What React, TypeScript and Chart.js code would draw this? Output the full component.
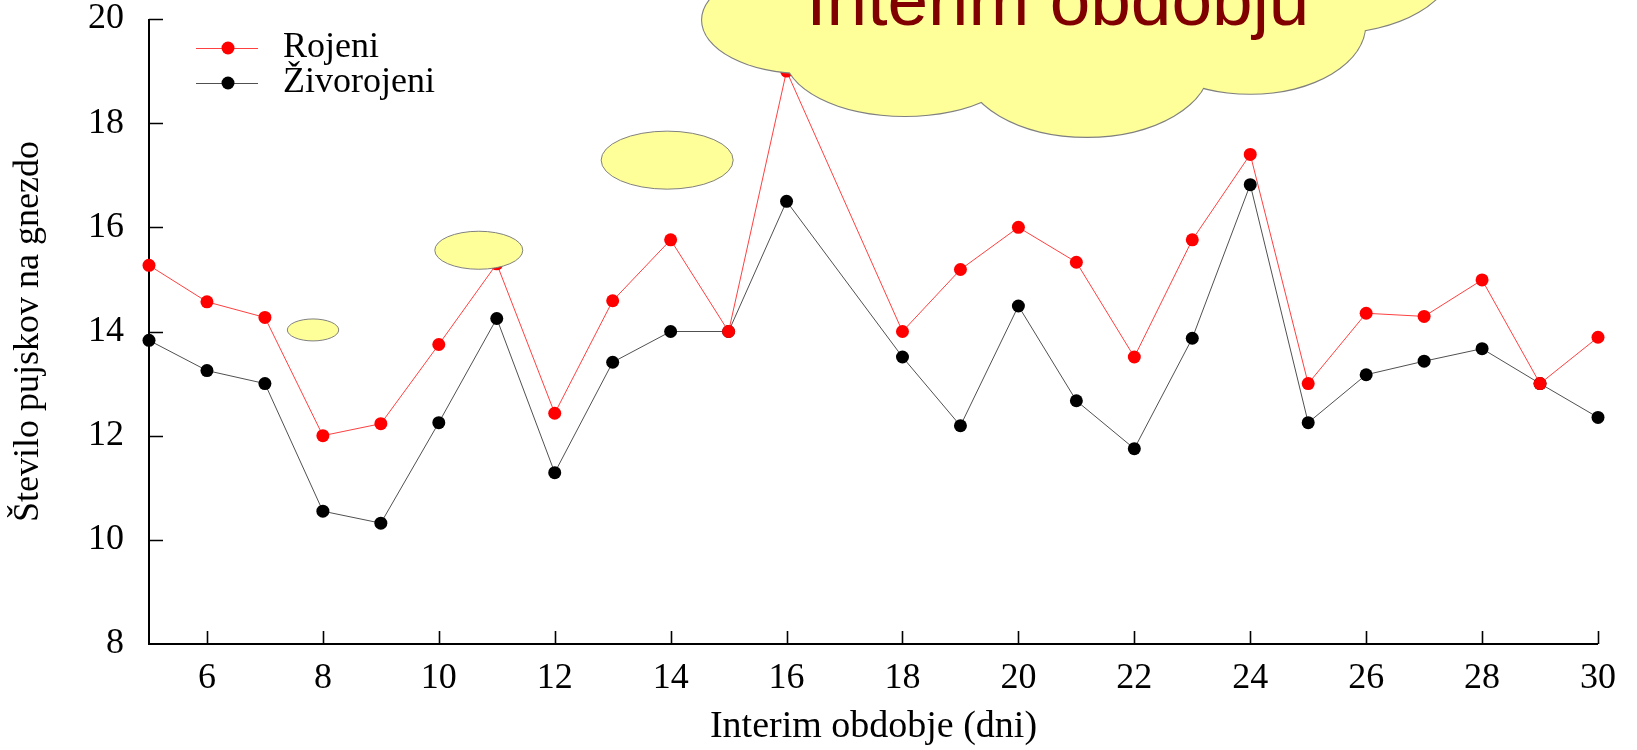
import React, { useEffect, useRef } from "react";
import { Chart, registerables } from "chart.js";

Chart.register(...registerables);

// ---- data ----
const days = [5, 6, 7, 8, 9, 10, 11, 12, 13, 14, 15, 16, 18, 19, 20, 21, 22, 23, 24, 25, 26, 27, 28, 29, 30];
const rojeni = [15.27, 14.57, 14.27, 12.0, 12.23, 13.75, 15.3, 12.43, 14.59, 15.76, 14.0, 19.0, 14.0, 15.19, 16.0, 15.33, 13.51, 15.76, 17.4, 13.0, 14.35, 14.29, 14.99, 13.0, 13.89];
const zivorojeni = [13.83, 13.25, 13.0, 10.55, 10.32, 12.25, 14.25, 11.29, 13.41, 14.0, 14.0, 16.5, 13.51, 12.19, 14.49, 12.67, 11.75, 13.87, 16.82, 12.25, 13.17, 13.43, 13.67, 13.0, 12.35];
const xTickValues = [6, 8, 10, 12, 14, 16, 18, 20, 22, 24, 26, 28, 30];
const yTickValues = [8, 10, 12, 14, 16, 18, 20];
const seriesLabels = ["Rojeni", "Živorojeni"];
const xTitle = "Interim obdobje (dni)";
const yTitle = "Število pujskov na gnezdo";
const cloudText = "Interim obdobju";

// decorative ellipses (data units): [x, y, rx, ry]
const bubbles = [
  [7.83, 14.03, 0.443, 0.211],
  [10.69, 15.56, 0.759, 0.365],
  [13.94, 17.29, 1.139, 0.557],
];
const cloudLobes = [
  [16.32, 19.98, 1.777, 1.018],
  [18.04, 19.31, 2.07, 1.171],
  [21.18, 19.12, 2.122, 1.383],
  [24.0, 19.89, 1.984, 1.325],
  [25.38, 21.13, 2.157, 1.402],
];
const cloudFiller = [21.06, 20.17, 4.7, 1.536];
const cloudTextPos = [16.34, 19.885];

const SERIF = '"Liberation Serif", "Times New Roman", serif';

const decorPlugin = {
  id: "decor",
  beforeDatasetsDraw(chart: any) {
    const { ctx, chartArea, scales } = chart;
    const x = scales.x, y = scales.y;
    ctx.save();
    ctx.strokeStyle = "#000";
    ctx.lineWidth = 2;
    ctx.beginPath();
    ctx.moveTo(chartArea.left, chartArea.top);
    ctx.lineTo(chartArea.left, chartArea.bottom);
    ctx.lineTo(chartArea.right, chartArea.bottom);
    ctx.stroke();
    ctx.lineWidth = 1.6;
    ctx.beginPath();
    for (const v of yTickValues) {
      if (v === yTickValues[0]) continue;
      const py = Math.round(y.getPixelForValue(v)) + 0.5;
      ctx.moveTo(chartArea.left, py);
      ctx.lineTo(chartArea.left + 14, py);
    }
    for (const v of xTickValues) {
      const px = Math.round(x.getPixelForValue(v)) + 0.5;
      ctx.moveTo(px, chartArea.bottom);
      ctx.lineTo(px, chartArea.bottom - 13);
    }
    ctx.stroke();
    ctx.restore();
  },
  afterDatasetsDraw(chart: any) {
    const { ctx, scales, chartArea } = chart;
    const x = scales.x, y = scales.y;
    const ux = Math.abs(x.getPixelForValue(6) - x.getPixelForValue(5));
    const uy = Math.abs(y.getPixelForValue(9) - y.getPixelForValue(8));
    const ell = (e: number[]) => {
      ctx.beginPath();
      ctx.ellipse(x.getPixelForValue(e[0]), y.getPixelForValue(e[1]), e[2] * ux, e[3] * uy, 0, 0, Math.PI * 2);
    };
    ctx.save();
    ctx.fillStyle = "#ffff99";
    ctx.strokeStyle = "#808080";
    ctx.lineWidth = 1;
    for (const b of bubbles) {
      ell(b);
      ctx.fill();
      ctx.stroke();
    }
    // cloud: stroke outlines first, then fill to hide inner outlines
    ctx.lineWidth = 2.2;
    for (const l of cloudLobes) {
      ell(l);
      ctx.stroke();
    }
    for (const l of cloudLobes) {
      ell(l);
      ctx.fill();
    }
    ell(cloudFiller);
    ctx.fill();
    ctx.fillStyle = "#800000";
    ctx.font = '73px "Liberation Sans", Arial, sans-serif';
    ctx.textAlign = "left";
    ctx.textBaseline = "alphabetic";
    ctx.fillText(cloudText, x.getPixelForValue(cloudTextPos[0]), y.getPixelForValue(cloudTextPos[1]));

    // legend
    const colors = [["#ff4040", "#ff0000"], ["#505050", "#000000"]];
    const rows = [chartArea.top + 29, chartArea.top + 64];
    ctx.font = "36px " + SERIF;
    ctx.textBaseline = "middle";
    seriesLabels.forEach((lab, i) => {
      const ry = rows[i];
      ctx.strokeStyle = colors[i][0];
      ctx.lineWidth = 1;
      ctx.beginPath();
      ctx.moveTo(chartArea.left + 47, ry + 0.5);
      ctx.lineTo(chartArea.left + 109, ry + 0.5);
      ctx.stroke();
      ctx.fillStyle = colors[i][1];
      ctx.beginPath();
      ctx.arc(chartArea.left + 79, ry, 6.5, 0, Math.PI * 2);
      ctx.fill();
      ctx.fillStyle = "#000";
      ctx.fillText(lab, chartArea.left + 134, ry);
    });
    ctx.restore();
  },
};

export default function App() {
  const ref = useRef<HTMLCanvasElement>(null);
  useEffect(() => {
    if (!ref.current) return;
    const chart = new Chart(ref.current, {
      type: "line",
      data: {
        datasets: [
          {
            label: seriesLabels[0],
            data: days.map((d, i) => ({ x: d, y: rojeni[i] })),
            borderColor: "#ff4040",
            backgroundColor: "#ff0000",
            pointBackgroundColor: "#ff0000",
            pointBorderColor: "#ff0000",
            borderWidth: 1,
            pointRadius: 6.5,
            pointBorderWidth: 0,
            tension: 0,
            clip: false,
          },
          {
            label: seriesLabels[1],
            data: days.map((d, i) => ({ x: d, y: zivorojeni[i] })),
            borderColor: "#505050",
            backgroundColor: "#000000",
            pointBackgroundColor: "#000000",
            pointBorderColor: "#000000",
            borderWidth: 1,
            pointRadius: 6.5,
            pointBorderWidth: 0,
            tension: 0,
            clip: false,
          },
        ],
      },
      options: {
        animation: false,
        responsive: false,
        devicePixelRatio: 1,
        layout: { padding: { left: 0, top: 19, right: 39, bottom: 0 } },
        plugins: { legend: { display: false }, tooltip: { enabled: false } },
        scales: {
          x: {
            type: "linear",
            min: 5,
            max: 30,
            grid: { display: false, drawTicks: false },
            border: { display: false },
            afterBuildTicks: (s: any) => {
              s.ticks = xTickValues.map((v) => ({ value: v }));
            },
            afterFit: (s: any) => {
              s.height = 106;
              s.paddingLeft = 0;
              s.paddingRight = 0;
              s.paddingTop = 0;
              s.paddingBottom = 0;
            },
            ticks: {
              padding: 13,
              color: "#000",
              font: { family: SERIF, size: 36 },
              maxRotation: 0,
              autoSkip: false,
            },
            title: {
              display: true,
              text: xTitle,
              color: "#000",
              font: { family: SERIF, size: 38 },
              padding: { top: 0, bottom: 0 },
            },
          },
          y: {
            type: "linear",
            min: 8,
            max: 20,
            grid: { display: false, drawTicks: false },
            border: { display: false },
            afterBuildTicks: (s: any) => {
              s.ticks = yTickValues.map((v) => ({ value: v }));
            },
            afterFit: (s: any) => {
              s.width = 149;
              s.paddingLeft = 0;
              s.paddingRight = 0;
              s.paddingTop = 0;
              s.paddingBottom = 0;
            },
            ticks: {
              padding: 25,
              color: "#000",
              font: { family: SERIF, size: 36 },
              autoSkip: false,
            },
            title: {
              display: true,
              text: yTitle,
              color: "#000",
              font: { family: SERIF, size: 36 },
              padding: { top: 7, bottom: 0 },
            },
          },
        },
      },
      plugins: [decorPlugin],
    } as any);
    return () => chart.destroy();
  }, []);
  return (
    <div style={{ position: "fixed", left: 0, top: 0, width: 1637, height: 750, background: "#fff" }}>
      <canvas ref={ref} width={1637} height={750} style={{ display: "block", width: 1637, height: 750 }} />
    </div>
  );
}
